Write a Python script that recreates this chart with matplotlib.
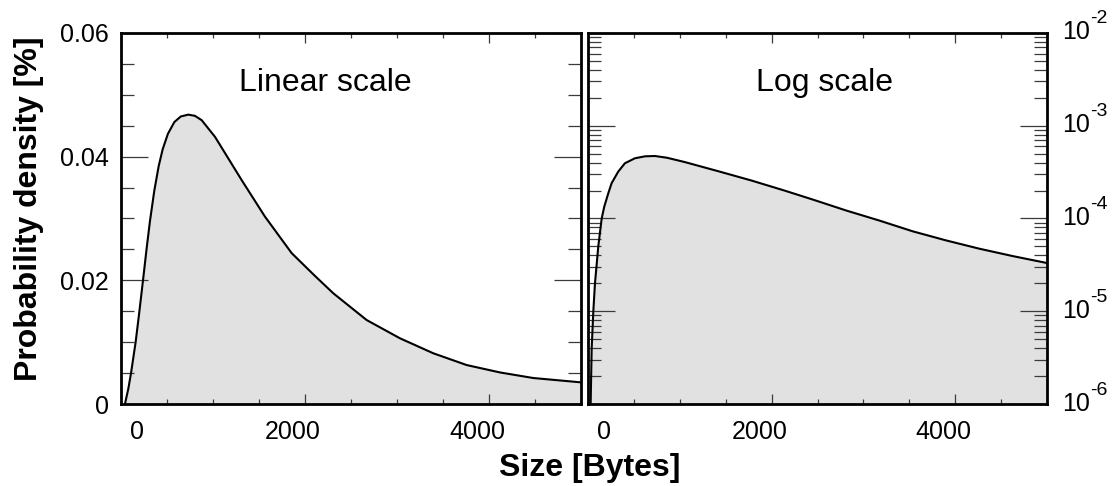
import matplotlib
matplotlib.use("Agg")
import matplotlib.pyplot as plt
from matplotlib.ticker import MultipleLocator, FixedLocator, LogLocator, NullFormatter
from matplotlib.transforms import ScaledTranslation, blended_transform_factory

plt.rcParams['font.family'] = ['Liberation Sans', 'DejaVu Sans']

# ---- data ----
lin_x = [43, 80, 109, 159, 196, 243, 279, 315, 362, 410, 453, 510, 580, 650, 732, 804,
         877, 1022, 1312, 1565, 1855, 2109, 2308, 2670, 3033, 3395, 3757, 4120, 4482, 5000]
lin_y = [0.0, 0.0025, 0.0050, 0.0100, 0.0145, 0.0205, 0.0252, 0.0296, 0.0345, 0.0385,
         0.0412, 0.0437, 0.0456, 0.0465, 0.0468, 0.0466, 0.0459, 0.0432, 0.0362, 0.0303,
         0.0244, 0.0207, 0.0179, 0.01358, 0.01062, 0.0082, 0.0063, 0.0051, 0.0042, 0.0035]

log_x = [25, 40, 58, 76, 112, 149, 177, 221, 257, 329, 402, 511, 620, 728, 860, 1054,
         1416, 1779, 2141, 2449, 2812, 3174, 3536, 3899, 4261, 4623, 5000]
log_y = [6.3e-7, 3.98e-6, 1.0e-5, 2.0e-5, 5.0e-5, 1.0e-4, 1.34e-4, 1.87e-4, 2.40e-4,
         3.20e-4, 3.94e-4, 4.46e-4, 4.68e-4, 4.72e-4, 4.52e-4, 4.06e-4, 3.24e-4,
         2.57e-4, 2.0e-4, 1.60e-4, 1.22e-4, 9.5e-5, 7.28e-5, 5.81e-5, 4.73e-5,
         3.94e-5, 3.31e-5]

x_ticks = [0, 2000, 4000]
x_tick_labels = ['0', '2000', '4000']
lin_y_ticks = [0, 0.02, 0.04, 0.06]
lin_y_tick_labels = ['0', '0.02', '0.04', '0.06']
log_y_ticks = [1e-6, 1e-5, 1e-4, 1e-3, 1e-2]
log_y_exponents = ['-6', '-5', '-4', '-3', '-2']

panel_titles = ['Linear scale', 'Log scale']
x_label = 'Size [Bytes]'
y_label = 'Probability density [%]'

# ---- figure ----
W, H = 1117, 486
fig = plt.figure(figsize=(W / 100, H / 100), dpi=100)
bottom = (H - 404) / H
height = 371 / H
ax1 = fig.add_axes([121 / W, bottom, 460 / W, height])
ax2 = fig.add_axes([588 / W, bottom, 459 / W, height])

fill_c = '#e1e1e1'
tick_c = '#3a3a3a'
for ax in (ax1, ax2):
    for sp in ax.spines.values():
        sp.set_linewidth(2.0)
        sp.set_zorder(5)
    ax.set_xlim(0, 5000)
    ax.xaxis.set_major_locator(FixedLocator(x_ticks))
    ax.xaxis.set_minor_locator(MultipleLocator(500))
    ax.set_xticklabels(x_tick_labels)
    ax.tick_params(axis='x', which='both', direction='in', top=True, bottom=True,
                   color=tick_c, width=0.9, labelsize=18, pad=11.5)
    ax.tick_params(axis='x', which='major', length=7.5)
    ax.tick_params(axis='x', which='minor', length=3.8)
    ax.tick_params(axis='y', which='both', direction='in', left=True, right=True,
                   color=tick_c, width=0.9, labelsize=18)
    ax.tick_params(axis='y', which='major', length=19.5)
    ax.tick_params(axis='y', which='minor', length=9.4)

# linear panel
ax1.fill_between(lin_x, lin_y, 0, color=fill_c, lw=0)
ax1.plot(lin_x, lin_y, color='black', lw=1.5, solid_joinstyle='round')
ax1.set_ylim(0, 0.06)
ax1.yaxis.set_major_locator(FixedLocator(lin_y_ticks))
ax1.yaxis.set_minor_locator(MultipleLocator(0.005))
ax1.set_yticklabels(lin_y_tick_labels)
ax1.tick_params(axis='y', pad=9)

# log panel
ax2.set_yscale('log')
ax2.fill_between(log_x, log_y, 1e-8, color=fill_c, lw=0)
ax2.plot(log_x, log_y, color='black', lw=1.5, solid_joinstyle='round')
ax2.set_ylim(1e-6, 1e-2)
ax2.yaxis.set_major_locator(FixedLocator(log_y_ticks))
ax2.yaxis.set_minor_locator(LogLocator(base=10, subs=range(2, 10), numticks=20))
ax2.yaxis.set_minor_formatter(NullFormatter())
ax2.set_yticklabels(['10'] * len(log_y_ticks))
ax2.tick_params(axis='y', labelleft=False, labelright=True, pad=11)
for tick in ax2.yaxis.get_major_ticks():
    lab = tick.label2
    lab.set_transform(lab.get_transform() + ScaledTranslation(0, 0.03, fig.dpi_scale_trans))

# superscript exponents next to the "10" labels
blend = blended_transform_factory(ax2.transAxes, ax2.transData)
for val, ex in zip(log_y_ticks, log_y_exponents):
    ax2.text(1.0, val, ex, transform=blend + ScaledTranslation(0.43, 0.095, fig.dpi_scale_trans),
             ha='left', va='baseline', fontsize=14, clip_on=False)

# shift x tick labels as in the reference
for ax in (ax1, ax2):
    for i, tick in enumerate(ax.xaxis.get_major_ticks()):
        dx = 16 if i == 0 else -12
        lab = tick.label1
        lab.set_transform(lab.get_transform() + ScaledTranslation(dx / 100, 0, fig.dpi_scale_trans))

ax1.text(0.445, 0.865, panel_titles[0], transform=ax1.transAxes, ha='center', va='center', fontsize=23)
ax2.text(0.515, 0.865, panel_titles[1], transform=ax2.transAxes, ha='center', va='center', fontsize=23)

fig.text(590 / W, 1 - 468 / H, x_label, ha='center', va='center', fontsize=23, fontweight='bold')
fig.text(29 / W, 1 - 209 / H, y_label, ha='center', va='center', rotation=90, fontsize=23, fontweight='bold')

fig.savefig('out.png', dpi=100)
